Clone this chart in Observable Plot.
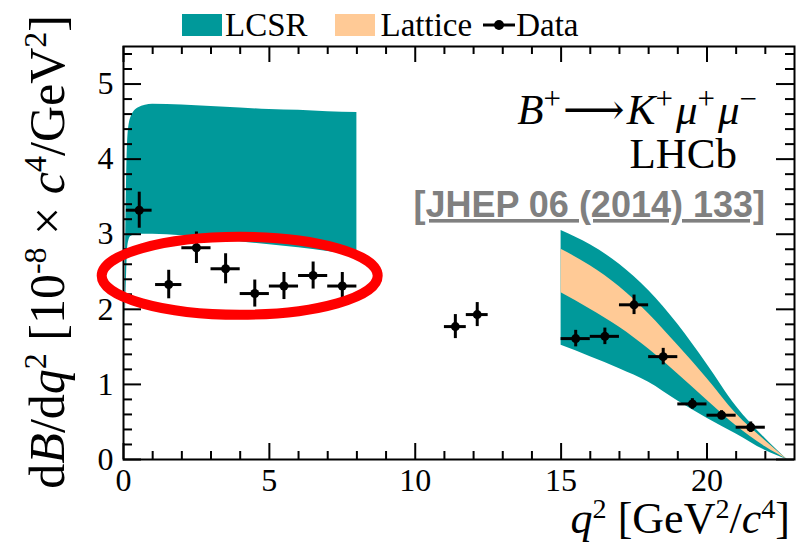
<!DOCTYPE html>
<html>
<head>
<meta charset="utf-8">
<script src="https://cdn.jsdelivr.net/npm/d3@7"></script>
<script src="https://cdn.jsdelivr.net/npm/@observablehq/plot@0.6"></script>
<style>
  html, body { margin: 0; padding: 0; background: white; overflow: hidden; }
  #wrap { width: 796px; height: 543px; position: relative; }
  #legend { position: absolute; left: 0; top: 0; width: 796px; height: 42px; z-index: 2; font-family: "Liberation Serif", "DejaVu Serif", serif; font-size: 33px; }
  #legend .row { position: absolute; left: 182px; top: 5px; height: 40px; display: flex; align-items: center; }
  #legend .box { width: 40px; height: 22px; margin-right: 3px; }
  #legend .lab { margin-right: 27px; line-height: 40px; }
  #legend svg { display: block; }
  #chart { position: absolute; left: 0; top: 0; }
</style>
</head>
<body>
<div id="wrap">
  <div id="chart"></div>
  <div id="legend"><div class="row">
    <div class="box" style="background:#00999a"></div><span class="lab">LCSR</span>
    <div class="box" style="background:#ffca96"></div><span class="lab" style="margin-left:3px;margin-right:11px">Lattice</span>
    <svg width="32" height="20"><line x1="0" y1="10" x2="32" y2="10" stroke="black" stroke-width="3"/><circle cx="16" cy="10" r="5" fill="black"/></svg>
    <span class="lab" style="margin-left:1px">Data</span>
  </div></div>
</div>
<script>
// ---- data ----
const binLo = [0.1, 1.1, 2, 3, 4, 5, 6, 7, 11, 11.75, 15, 16, 17, 18, 19, 20, 21];
const binHi = [0.98, 2, 3, 4, 5, 6, 7, 8, 11.75, 12.5, 16, 17, 18, 19, 20, 21, 22];
const dBdq2 = [3.32, 2.33, 2.82, 2.54, 2.21, 2.31, 2.45, 2.31, 1.77, 1.93, 1.61, 1.64, 2.06, 1.37, 0.74, 0.59, 0.43];
const dBerr = [0.24, 0.19, 0.21, 0.20, 0.18, 0.18, 0.18, 0.18, 0.16, 0.16, 0.11, 0.11, 0.13, 0.11, 0.07, 0.06, 0.07];

const lowQ2 = [0.06, 0.1, 0.15, 0.25, 0.5, 1, 2, 3, 4, 5, 6, 7, 8];
const lowLCSRmin = [1.8, 2.4, 2.85, 2.97, 3.0, 3.0, 2.98, 2.95, 2.9, 2.86, 2.82, 2.77, 2.72];
const lowLCSRmax = [2.4, 3.6, 4.3, 4.55, 4.68, 4.73, 4.72, 4.70, 4.68, 4.66, 4.65, 4.63, 4.62];

const highQ2 = [15, 16, 17, 18, 19, 20, 21, 22, 22.75];
const highLCSRmin = [1.52, 1.37, 1.21, 1.03, 0.78, 0.55, 0.34, 0.12, 0];
const highLCSRmax = [3.05, 2.86, 2.60, 2.25, 1.80, 1.27, 0.71, 0.28, 0];
const latticeMin = [2.22, 2.00, 1.76, 1.47, 1.14, 0.79, 0.45, 0.17, 0];
const latticeMax = [2.80, 2.58, 2.30, 1.94, 1.52, 1.08, 0.61, 0.25, 0];

const xMajor = [0, 5, 10, 15, 20];
const xMinor = [1, 2, 3, 4, 6, 7, 8, 9, 11, 12, 13, 14, 16, 17, 18, 19, 21, 22];
const yMajor = [0, 1, 2, 3, 4, 5];
const yMinor = [0.2, 0.4, 0.6, 0.8, 1.2, 1.4, 1.6, 1.8, 2.2, 2.4, 2.6, 2.8, 3.2, 3.4, 3.6, 3.8, 4.2, 4.4, 4.6, 4.8, 5.2, 5.4];

const ellipseCenter = [4.0, 2.44];

// ---- tables ----
const points = binLo.map((lo, i) => ({lo, hi: binHi[i], q: (lo + binHi[i]) / 2, v: dBdq2[i], e: dBerr[i]}));
const lowBand = lowQ2.map((q, i) => ({q, a: lowLCSRmin[i], b: lowLCSRmax[i]}));
const highBand = highQ2.map((q, i) => ({q, a: highLCSRmin[i], b: highLCSRmax[i], la: latticeMin[i], lb: latticeMax[i]}));

const TEAL = "#00999a", PEACH = "#ffca96";
const W = 796, H = 543, mT = 46, mR = 2, mB = 84, mL = 123;
const innerH = H - mT - mB, innerW = W - mL - mR;
const svgNS = "http://www.w3.org/2000/svg";

function rich(parts, size, attrs, supScale = 0.66, supRise = 0.36) {
  const t = document.createElementNS(svgNS, "text");
  for (const [k, v] of Object.entries(attrs)) t.setAttribute(k, v);
  t.setAttribute("font-size", size);
  let shifted = 0;
  for (const p of parts) {
    const s = document.createElementNS(svgNS, "tspan");
    const target = p.sup ? -supRise * size : 0;
    const dy = target - shifted;
    if (dy) s.setAttribute("dy", dy);
    shifted = target;
    if (p.sup) s.setAttribute("font-size", size * supScale);
    if (p.i) s.setAttribute("font-style", "italic");
    if (p.dx) s.setAttribute("dx", p.dx);
    if (p.f) s.setAttribute("font-family", p.f);
    s.textContent = p.t;
    t.appendChild(s);
  }
  return t;
}

const xTitle = [{t: "q", i: true}, {t: "2", sup: true}, {t: " [GeV"}, {t: "2", sup: true}, {t: "/"}, {t: "c", i: true}, {t: "4", sup: true}, {t: "]"}];
const yTitle = [{t: "d"}, {t: "B", i: true}, {t: "/d"}, {t: "q", i: true}, {t: "2", sup: true}, {t: " [10"}, {t: "-8", sup: true}, {t: " × "}, {t: "c", i: true}, {t: "4", sup: true}, {t: "/GeV"}, {t: "2", sup: true}, {t: "]"}];
const decay = [{t: "B", i: true}, {t: "+", sup: true}, {t: "\u27f6", dx: 2, f: "'DejaVu Serif', serif"}, {t: "K", i: true, dx: 2}, {t: "+", sup: true}, {t: "\u03bc", i: true, dx: 3}, {t: "+", sup: true}, {t: "\u03bc", i: true, dx: 3}, {t: "\u2212", sup: true}];

function annotations(index, scales, values, dims) {
  const g = document.createElementNS(svgNS, "g");
  g.setAttribute("font-family", "'Liberation Serif', 'DejaVu Serif', serif");
  g.setAttribute("fill", "black");
  const right = dims.width - dims.marginRight;
  g.appendChild(rich(xTitle, 44, {x: right - 4, y: dims.height - 10, "text-anchor": "end"}, 0.64, 0.33));
  g.appendChild(rich(yTitle, 50, {transform: `translate(64,${dims.marginTop - 31}) rotate(-90)`, "text-anchor": "end"}, 0.64, 0.36));
  g.appendChild(rich(decay, 43, {x: right - 37, y: dims.marginTop + 78, "text-anchor": "end"}, 0.72, 0.36));
  g.appendChild(rich([{t: "LHCb"}], 43, {x: right - 57, y: dims.marginTop + 122, "text-anchor": "end"}));
  const j = rich([{t: "[JHEP 06 (2014) 133]"}], 36, {x: right - 29, y: dims.marginTop + 171, "text-anchor": "end",
    "font-family": "'Liberation Sans', Arial, sans-serif", "font-weight": "bold", fill: "#808080", "text-decoration": "underline"});
  g.appendChild(j);
  return g;
}

function ellipse(index, scales) {
  const e = document.createElementNS(svgNS, "ellipse");
  e.setAttribute("cx", scales.x(ellipseCenter[0]));
  e.setAttribute("cy", scales.y(ellipseCenter[1]));
  e.setAttribute("rx", 138);
  e.setAttribute("ry", 39);
  e.setAttribute("fill", "none");
  e.setAttribute("stroke", "#ff0000");
  e.setAttribute("stroke-width", 10);
  return e;
}

const chart = Plot.plot({
  width: W, height: H,
  marginTop: mT, marginRight: mR, marginBottom: mB, marginLeft: mL,
  x: {domain: [0, 23], axis: null},
  y: {domain: [0, 5.5], axis: null},
  style: {fontFamily: "'Liberation Serif', 'DejaVu Serif', serif", fontSize: "32px", background: "white", color: "black", overflow: "visible"},
  marks: [
    Plot.areaY(lowBand, {x: "q", y1: "a", y2: "b", fill: TEAL, curve: "monotone-x"}),
    Plot.areaY(highBand, {x: "q", y1: "a", y2: "b", fill: TEAL, curve: "monotone-x"}),
    Plot.areaY(highBand, {x: "q", y1: "la", y2: "lb", fill: PEACH, curve: "monotone-x"}),
    Plot.ruleY(points, {y: "v", x1: "lo", x2: "hi", stroke: "black", strokeWidth: 3}),
    Plot.ruleX(points, {x: "q", y1: d => d.v - d.e, y2: d => d.v + d.e, stroke: "black", strokeWidth: 3}),
    Plot.dot(points, {x: "q", y: "v", r: 4.5, fill: "black"}),
    // inward ticks on all four sides
    Plot.tickX(xMajor, {x: d => d, insetTop: innerH - 16, stroke: "black", strokeWidth: 2}),
    Plot.tickX(xMinor, {x: d => d, insetTop: innerH - 8, stroke: "black", strokeWidth: 2}),
    Plot.tickX(xMajor, {x: d => d, insetBottom: innerH - 16, stroke: "black", strokeWidth: 2}),
    Plot.tickX(xMinor, {x: d => d, insetBottom: innerH - 8, stroke: "black", strokeWidth: 2}),
    Plot.tickY(yMajor, {y: d => d, insetRight: innerW - 18, stroke: "black", strokeWidth: 2}),
    Plot.tickY(yMinor, {y: d => d, insetRight: innerW - 9, stroke: "black", strokeWidth: 2}),
    Plot.tickY(yMajor, {y: d => d, insetLeft: innerW - 18, stroke: "black", strokeWidth: 2}),
    Plot.tickY(yMinor, {y: d => d, insetLeft: innerW - 9, stroke: "black", strokeWidth: 2}),
    Plot.axisX({ticks: xMajor, tickSize: 0, tickPadding: 9, tickFormat: d => String(d), label: null, fontSize: 32}),
    Plot.axisY({ticks: yMajor, tickSize: 0, tickPadding: 10, tickFormat: d => String(d), label: null, fontSize: 32}),
    Plot.frame({stroke: "black", strokeWidth: 2}),
    annotations,
    ellipse
  ]
});
document.getElementById("chart").appendChild(chart);
</script>
</body>
</html>
